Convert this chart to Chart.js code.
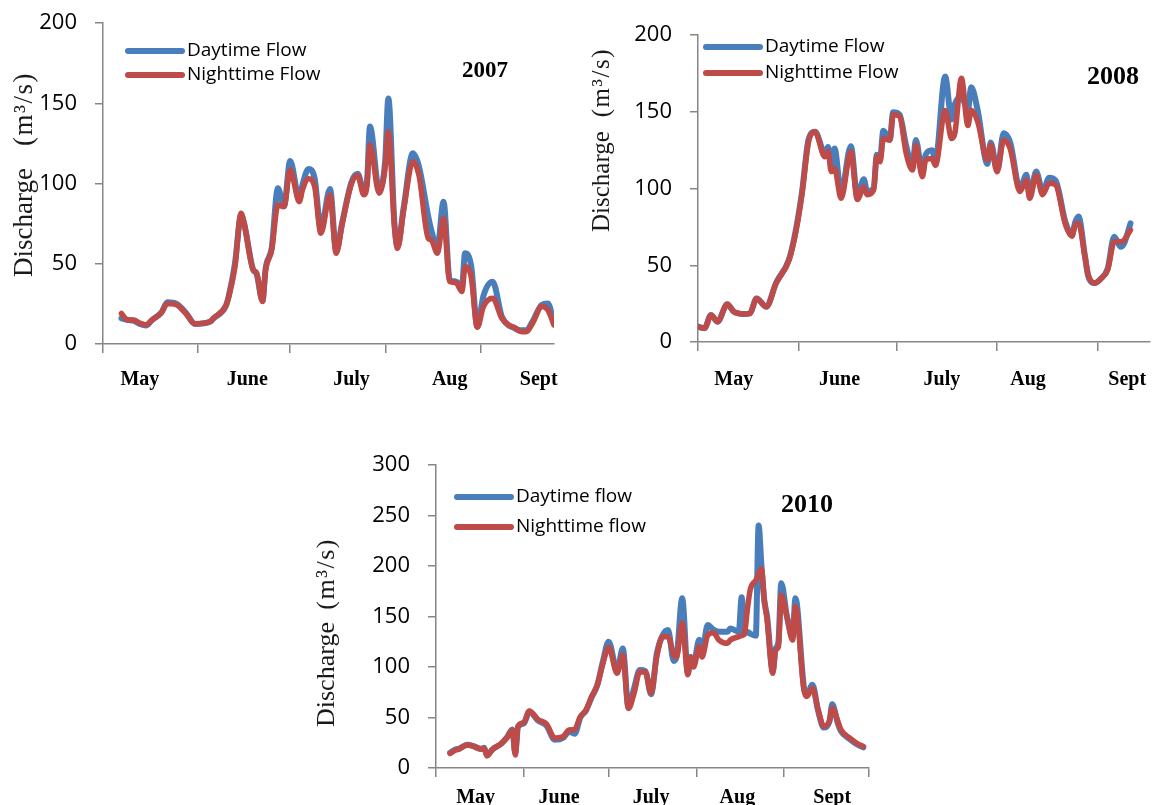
<!DOCTYPE html>
<html>
<head>
<meta charset="utf-8">
<title>Daytime and nighttime discharge</title>
<script src="https://cdn.jsdelivr.net/npm/chart.js"></script>
<style>
  html, body { margin: 0; padding: 0; background: #ffffff; }
  body { width: 1153px; height: 805px; position: relative; overflow: hidden; }
  canvas { position: absolute; }
</style>
</head>
<body>
<canvas id="c2007"></canvas>
<canvas id="c2008"></canvas>
<canvas id="c2010"></canvas>
<script>
// Day of season (0 = 1 May) and discharge in m3/s.
const monthNames = ['May', 'June', 'July', 'Aug', 'Sept'];

// 2007
const days2007 = [6,8,10,12,14,16,19,21,24,27,30,35,36,40,41,43,45,46,49,50,52,53,55,57,59,61,64,65,67,69,71,74,76,78,81,83,85,86,87,90,92,93,95,96,98,101,103,106,107,109,111,113,115,117,118,120,122,124,127,130,132,134,136,138,140,143,145,147];
const dayFlow2007 = [16,15,14.5,12.5,11.5,15,19.5,26,25,19.5,12.5,14,16,23.5,30,50,80,75,46,44,27,47,60,97,86,114,90,99,109,103,72,96.5,58,76,101,106,96,100,135.5,96,115,153,75,61,85,118.8,110.5,79.5,71,60,88.7,40,39,36,56.5,48.6,11,30,38.8,17,12,10,8.5,8.5,14,24.4,25.3,12.5];
const nightFlow2007 = [19,15,15,13,12,15,19.5,25.3,24.4,19,12.6,14,16,23.7,29.5,48,81.5,75.3,46,44.6,26.5,46,58.7,86.6,85.5,108.4,88.7,96,103,98,69,92.8,56.5,75.2,100,105,93,98,124,94,110.5,132.3,73.2,59.6,83.5,113.6,105,65.8,64.8,56.5,78.4,38.9,38.3,32.7,48.2,42,10.4,23.3,28.5,16,12,10.4,7.8,7.7,12.9,23.3,21.2,11.8];
const monthStarts2007 = [0, 31, 61, 92, 123];
const monthLabelDays2007 = [12, 47, 81, 113, 142];

// 2008
const days2008 = [0,2,4,6,9,11,14,16,18,21,24,28,30,32,34,36,39,40,41,42,44,47,49,51,52,54,55,56,57,59,60,62,64,66,67,69,70,72,73,76,78,79,81,83,84,86,89,90,92,94,96,99,101,102,104,106,108,110,113,115,116,117,119,120,122,124,126,128,130,131,133];
const dayFlow2008 = [10,9,17.6,13.2,24.6,19.8,18.3,18.7,28.4,23,38.5,54,72,98,132,137,123,127,114,126,97,127.6,95,106,98,100,122,120,137.7,132,149.6,148,128,115,131.6,110,122,125,118,173,145,155,160,151,166,151,116,130,112,136,130,100,109,95,111,98,107,105,78,70,78,81.7,56,43,38.5,41.5,48,68.6,62,64,77.3];
const nightFlow2008 = [10,9,17.6,13.2,24.6,19.8,18.3,18.7,28.4,23,38.2,53.4,70.8,96.8,130.4,137,120.7,124,111,113,93.6,124,92.8,101,96,99,120.7,117.5,132.5,131.5,148,147,123,112,128.3,107.7,118.5,119.5,115,150.8,132.6,136,171.8,141,151,143.6,118.5,128.3,110.9,131.5,126,98,105.5,93.6,108.6,96,103.5,102.3,76.4,68.9,76.2,77.3,55.6,43.6,38.3,41.5,47,65.3,65.3,66.4,72.9];
const monthStarts2008 = [0, 31, 61, 92, 123];
const monthLabelDays2008 = [11, 43.5, 75, 101.5, 132];

// 2010
const days2010 = [5,7,8,11,13,16,17,18,20,23,25,27,28,29,31,33,36,39,42,45,47,49,51,53,55,57,59,61,64,66,68,70,72,74,76,78,80,82,84,85,87,89,90,91,93,94,96,98,100,103,104,107,108,109,110,111,113,114,115,116,117,119,120,121,122,124,126,127,130,131,133,135,137,139,140,142,143,146,149,151];
const dayFlow2010 = [15,18.5,19,23,22,19,20,13,18.5,24,30,38,15,41,44,56,47,42,28,30,36,34,50,57,70,82,106,125,96,118.4,60,79,97,96,73,113,131,136.6,106,110,168,94,110,103,127,115,141.6,137,135,135,138,135,169,133,135,133,131,240,200,166,150,96,118,125,183,150,130,168,80,72,82.5,57,40,46,63,44,37,29,23,20.5];
const nightFlow2010 = [14.5,17.8,18.5,22.8,21.8,18.5,19.5,11.9,18.5,24,29.6,37.6,12.9,41.7,44.9,56.5,48.2,43.6,29.6,31.2,37.6,38.3,50.8,57.4,70.6,82.2,103.6,119.5,93.9,111.8,59,74,95.4,95,74,110,130,130,112,110,143.6,92.4,110,100,120,110,131.4,134,126.7,123.4,126.7,130,131,133.3,156.4,176.2,186,192,197.4,166.3,146.5,93.7,116.8,120,171,150,126.7,160,77.5,70.9,79,57.8,41.3,46.2,59.4,46.2,38.3,30,24,21.3];
const monthStarts2010 = [0, 31, 61, 92, 123, 153];
const monthLabelDays2010 = [14, 43.5, 76, 106.5, 140];

const BLUE = '#4A7EBB';
const RED = '#BE4B48';
const AXIS = '#868686';

// Legend, year label and rotated axis title drawn on top of each chart.
const decorPlugin = {
  id: 'decor',
  afterDraw(chart, args, o) {
    const ctx = chart.ctx;
    ctx.save();
    chart.data.datasets.forEach((ds, i) => {
      const y = o.legend.y + i * o.legend.gap;
      ctx.strokeStyle = ds.borderColor;
      ctx.lineWidth = 6;
      ctx.lineCap = 'round';
      ctx.beginPath();
      ctx.moveTo(o.legend.x, y);
      ctx.lineTo(o.legend.x + 54, y);
      ctx.stroke();
      ctx.fillStyle = '#000';
      ctx.font = '19px "Open Sans"';
      ctx.textAlign = 'left';
      ctx.textBaseline = 'middle';
      ctx.fillText(ds.label, o.legend.x + 59, y);
    });

    ctx.fillStyle = '#000';
    ctx.font = 'bold ' + o.year.size + 'px "Liberation Serif"';
    ctx.textAlign = 'center';
    ctx.textBaseline = 'middle';
    ctx.fillText(o.year.text, o.year.x, o.year.y);

    const t = o.yTitle;
    ctx.translate(t.x, t.bottom);
    ctx.rotate(-Math.PI / 2);
    ctx.fillStyle = '#1a1a1a';
    ctx.font = t.size + 'px "Liberation Serif"';
    ctx.textBaseline = 'middle';
    ctx.textAlign = 'left';
    ctx.fillText('Discharge', 0, 0);
    if ('letterSpacing' in ctx) ctx.letterSpacing = '1.5px';
    ctx.textAlign = 'right';
    ctx.fillText('(m³/s)', t.bottom - t.top, 0);
    ctx.restore();
  }
};

// Keep tick-label overhang from pushing the plot area around.
function clearPadding(s) {
  s.paddingTop = 0;
  s.paddingBottom = 0;
  s.paddingLeft = 0;
  s.paddingRight = 0;
}

function buildChart(cfg) {
  const canvas = document.getElementById(cfg.id);
  const a = cfg.area;
  canvas.width = cfg.w;
  canvas.height = cfg.h;
  canvas.style.left = cfg.left + 'px';
  canvas.style.top = cfg.top + 'px';
  canvas.style.width = cfg.w + 'px';
  canvas.style.height = cfg.h + 'px';

  const pts = vals => cfg.days.map((d, i) => ({ x: d, y: vals[i] }));

  return new Chart(canvas, {
    type: 'line',
    data: {
      datasets: [
        { label: cfg.labels[0], data: pts(cfg.dayFlow), borderColor: BLUE, backgroundColor: BLUE, borderWidth: 6, order: 2 },
        { label: cfg.labels[1], data: pts(cfg.nightFlow), borderColor: RED, backgroundColor: RED, borderWidth: 5.5, order: 1 }
      ]
    },
    options: {
      responsive: false,
      animation: false,
      devicePixelRatio: 1,
      layout: { padding: { left: 0, top: a.top, right: cfg.w - a.right, bottom: 0 } },
      elements: {
        point: { radius: 0 },
        line: { cubicInterpolationMode: 'monotone', borderCapStyle: 'round', borderJoinStyle: 'round' }
      },
      plugins: {
        legend: { display: false },
        tooltip: { enabled: false },
        decor: cfg.decor
      },
      scales: {
        x: {
          type: 'linear', position: 'bottom', min: 0, max: cfg.xMax,
          afterBuildTicks: s => { s.ticks = cfg.monthStarts.map(v => ({ value: v })); },
          afterFit: s => { s.height = 10; clearPadding(s); },
          ticks: { display: false },
          grid: { display: true, drawOnChartArea: false, drawTicks: true, tickLength: 9, color: AXIS, lineWidth: 1.5 },
          border: { display: true, color: AXIS, width: 1.5 }
        },
        m: {
          type: 'linear', position: 'bottom', weight: 1, min: 0, max: cfg.xMax,
          afterBuildTicks: s => { s.ticks = cfg.monthLabelDays.map(v => ({ value: v })); },
          afterFit: s => { s.height = cfg.h - a.bottom - 10; clearPadding(s); },
          grid: { display: false },
          border: { display: false },
          ticks: {
            autoSkip: false, maxRotation: 0, minRotation: 0, padding: cfg.monthPad, color: '#000',
            font: { family: 'Liberation Serif', weight: 'bold', size: 20 },
            callback: (v, i) => monthNames[i]
          }
        },
        y: {
          min: 0, max: cfg.yMax,
          afterFit: s => { s.width = a.left; clearPadding(s); },
          ticks: { stepSize: 50, padding: 18, color: '#000', font: { family: 'Open Sans', size: 22 } },
          grid: { drawOnChartArea: false, drawTicks: true, tickLength: 8, color: AXIS, lineWidth: 1.5 },
          border: { display: true, color: AXIS, width: 1.5 }
        }
      }
    },
    plugins: [decorPlugin]
  });
}

const charts = [
  buildChart({
    id: 'c2007', left: 0, top: 0, w: 580, h: 410,
    area: { left: 103, top: 23, right: 554, bottom: 344 },
    days: days2007, dayFlow: dayFlow2007, nightFlow: nightFlow2007,
    monthStarts: monthStarts2007, monthLabelDays: monthLabelDays2007,
    xMax: 147, yMax: 200, monthPad: 6,
    labels: ['Daytime Flow', 'Nighttime Flow'],
    decor: {
      legend: { x: 128, y: 51, gap: 24 },
      year: { text: '2007', x: 485, y: 71, size: 23 },
      yTitle: { x: 25, bottom: 277, top: 72, size: 27 }
    }
  }),
  buildChart({
    id: 'c2008', left: 580, top: 0, w: 573, h: 410,
    area: { left: 118, top: 35, right: 571, bottom: 342 },
    days: days2008, dayFlow: dayFlow2008, nightFlow: nightFlow2008,
    monthStarts: monthStarts2008, monthLabelDays: monthLabelDays2008,
    xMax: 139, yMax: 200, monthPad: 8,
    labels: ['Daytime Flow', 'Nighttime Flow'],
    decor: {
      legend: { x: 126, y: 47, gap: 26 },
      year: { text: '2008', x: 533, y: 77, size: 26 },
      yTitle: { x: 22, bottom: 232, top: 48, size: 25 }
    }
  }),
  buildChart({
    id: 'c2010', left: 300, top: 440, w: 600, h: 365,
    area: { left: 136, top: 25, right: 569, bottom: 328 },
    days: days2010, dayFlow: dayFlow2010, nightFlow: nightFlow2010,
    monthStarts: monthStarts2010, monthLabelDays: monthLabelDays2010,
    xMax: 153, yMax: 300, monthPad: 0,
    labels: ['Daytime flow', 'Nighttime flow'],
    decor: {
      legend: { x: 157, y: 57, gap: 30 },
      year: { text: '2010', x: 507, y: 65, size: 26 },
      yTitle: { x: 27, bottom: 287, top: 98, size: 26 }
    }
  })
];

if (document.fonts && document.fonts.load) {
  Promise.all([
    document.fonts.load('19px "Open Sans"'),
    document.fonts.load('22px "Open Sans"'),
    document.fonts.load('bold 20px "Liberation Serif"'),
    document.fonts.load('26px "Liberation Serif"')
  ]).then(() => charts.forEach(c => c.update('none')));
}
</script>
</body>
</html>
